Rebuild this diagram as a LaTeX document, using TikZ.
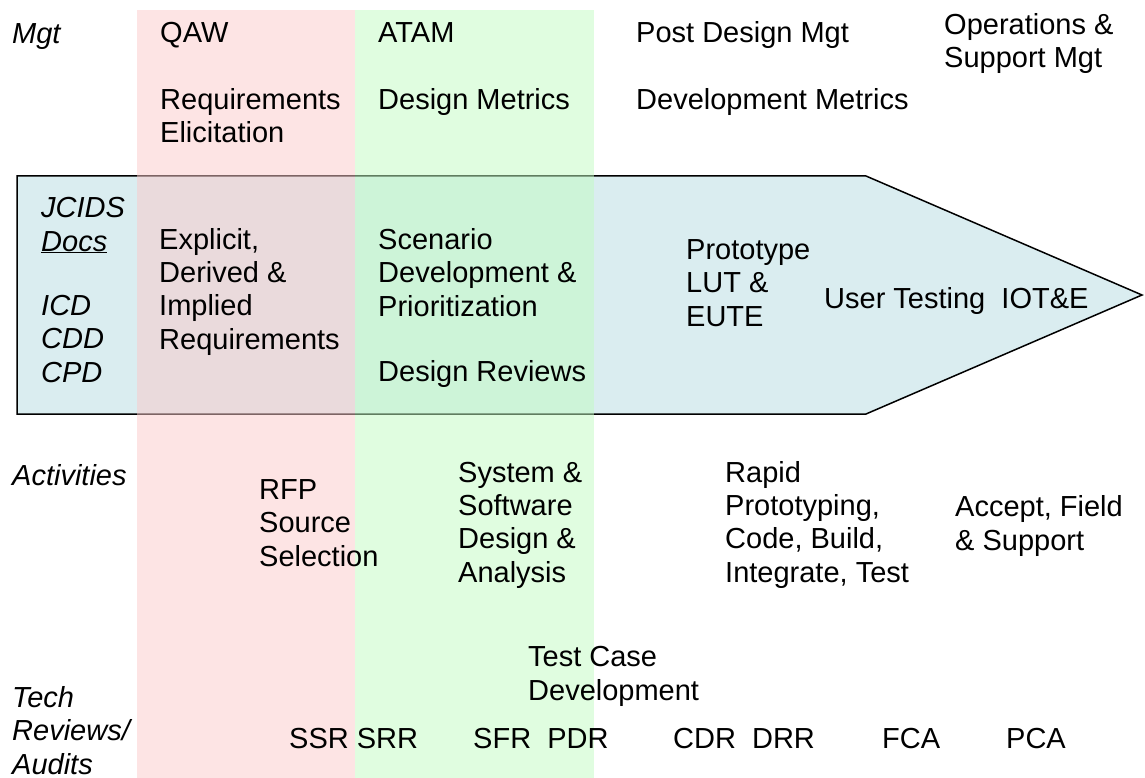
\documentclass[tikz,border=0pt]{standalone}
\usepackage{fontspec}
\setmainfont{Liberation Sans}
\definecolor{arrowfill}{RGB}{218,237,240}
\definecolor{pinkband}{RGB}{251,201,201}
\definecolor{greenband}{RGB}{193,251,193}
\tikzset{
  lbl/.style={inner sep=0pt, anchor=base west, align=left,
    font=\fontsize{29}{33.3}\selectfont},
  ilbl/.style={lbl, font=\fontsize{29}{33.3}\selectfont\itshape},
  band/.style={draw=none, fill opacity=0.5},
}
\begin{document}
\begin{tikzpicture}[x=1pt,y=-1pt]
\useasboundingbox (0,0) rectangle (1145,778);
% phase arrow
\draw[line width=1.5pt, fill=arrowfill] (17,176) coordinate (a1) -- (866,176) coordinate (a2)
  -- (1142,295) coordinate (tip) -- (866,414) coordinate (a3) -- (17,414) coordinate (a4) -- cycle;
% bands
\fill[band, pinkband] (137,10) rectangle (355,778);
\fill[band, greenband] (355,10) rectangle (594,778);
% (anchor base = baseline of the LAST line of each block)
% row: management
\node[ilbl] (mgt) at (12,44) {Mgt};
\node[lbl] (qaw) at (160,43) {QAW};
\node[lbl] (atam) at (378,43) {ATAM};
\node[lbl] (pdm) at (636,43) {Post Design Mgt};
\node[lbl] (osm) at (944,68) {Operations \&\\Support Mgt};
\node[lbl] (reqel) at (160,143) {Requirements\\Elicitation};
\node[lbl] (dmet) at (378,110) {Design Metrics};
\node[lbl] (devmet) at (636,110) {Development Metrics};
% inside arrow
\node[ilbl] (jcids) at (41,251) {JCIDS\\\underline{Docs}};
\node[ilbl] (docs) at (41,382) {ICD\\CDD\\CPD};
\node[lbl] (reqs) at (159,349) {Explicit,\\Derived \&\\Implied\\Requirements};
\node[lbl] (scen) at (378,316) {Scenario\\Development \&\\Prioritization};
\node[lbl] (drev) at (378,381) {Design Reviews};
\node[lbl] (proto) at (686,326) {Prototype\\LUT \&\\EUTE};
\node[lbl] (utest) at (824,308) {User Testing\ \ IOT\&E};
% activities
\node[ilbl] (act) at (12,485) {Activities};
\node[lbl] (rfp) at (259,566) {RFP\\Source\\Selection};
\node[lbl] (sysdes) at (458,582) {System \&\\Software\\Design \&\\Analysis};
\node[lbl] (rapid) at (725,582) {Rapid\\Prototyping,\\Code, Build,\\Integrate, Test};
\node[lbl] (accept) at (955,550) {Accept, Field\\\& Support};
\node[lbl] (tcd) at (528,700) {Test Case\\Development};
% tech reviews
\node[ilbl] (tech) at (12,774) {Tech\\Reviews/\\Audits};
\node[lbl] (ssr) at (289,748) {SSR SRR};
\node[lbl] (sfr) at (473,748) {SFR\ \ PDR};
\node[lbl] (cdr) at (673,748) {CDR\ \ DRR};
\node[lbl] (fca) at (882,748) {FCA};
\node[lbl] (pca) at (1006,748) {PCA};
\end{tikzpicture}
\end{document}
